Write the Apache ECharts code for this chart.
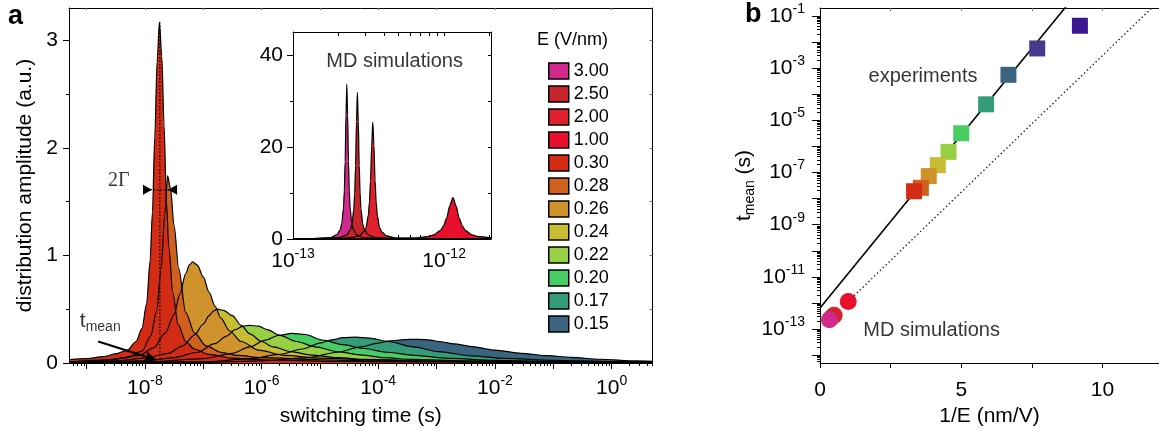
<!DOCTYPE html>
<html><head><meta charset="utf-8">
<script src="https://cdn.jsdelivr.net/npm/echarts@6/dist/echarts.min.js"></script>
<style>html,body{margin:0;padding:0;background:#fff}#c{width:1159px;height:436px}</style>
</head><body><div id="c"></div>
<script>
// ---------------- DATA ----------------
// Field strengths (legend order) and colours
const fieldLabels = ['3.00','2.50','2.00','1.00','0.30','0.28','0.26','0.24','0.22','0.20','0.17','0.15'];
const fieldColors = ['#d12a8c','#c8242c','#e0202c','#e8102c','#d42c14','#d0601e','#d0922a','#c8bc32','#98d044','#48cc64','#349c78','#3a6480'];

// Panel a: switching-time distributions, points are [log10(t / s), amplitude]
const dist030 = [[-9.3,0.03],[-9.0,0.04],[-8.7,0.06],[-8.5,0.085],[-8.3,0.12],[-8.15,0.2],[-8.05,0.32],[-7.97,0.55],[-7.91,0.95],[-7.87,1.4],[-7.83,2.1],[-7.79,2.8],[-7.75,3.17],[-7.71,2.85],[-7.67,2.2],[-7.63,1.5],[-7.59,1.08],[-7.52,0.65],[-7.43,0.36],[-7.3,0.2],[-7.15,0.13],[-6.9,0.08],[-6.5,0.045],[-6.0,0.03],[-5.0,0.018],[-4.0,0.012],[-2.0,0.007],[0.7,0.004]];
const dist028 = [[-9.3,0.01],[-8.7,0.025],[-8.3,0.05],[-8.05,0.11],[-7.9,0.25],[-7.8,0.48],[-7.72,0.88],[-7.66,1.38],[-7.61,1.74],[-7.56,1.62],[-7.5,1.28],[-7.42,0.88],[-7.3,0.47],[-7.15,0.28],[-6.95,0.16],[-6.7,0.1],[-6.4,0.07],[-6.0,0.05],[-5.0,0.03],[-4.0,0.018],[-2.0,0.01],[0.7,0.005]];
const dist026 = [[-9.3,0.01],[-8.6,0.03],[-8.1,0.07],[-7.85,0.14],[-7.65,0.28],[-7.5,0.45],[-7.4,0.64],[-7.3,0.83],[-7.24,0.91],[-7.18,0.94],[-7.1,0.91],[-7.0,0.8],[-6.9,0.66],[-6.8,0.53],[-6.7,0.42],[-6.55,0.3],[-6.35,0.2],[-6.05,0.12],[-5.6,0.07],[-5.0,0.045],[-4.0,0.027],[-2.5,0.015],[-1.0,0.01],[0.7,0.006]];
const dist024 = [[-9.3,0.005],[-8.5,0.02],[-8.0,0.045],[-7.6,0.09],[-7.35,0.16],[-7.15,0.26],[-7.0,0.36],[-6.9,0.44],[-6.82,0.485],[-6.76,0.5],[-6.65,0.49],[-6.5,0.44],[-6.35,0.35],[-6.2,0.27],[-6.0,0.2],[-5.8,0.15],[-5.5,0.105],[-5.14,0.074],[-4.7,0.05],[-4.2,0.033],[-3.0,0.017],[-1.5,0.01],[0.7,0.005]];
const dist022 = [[-9.3,0.003],[-8.0,0.02],[-7.5,0.05],[-7.1,0.1],[-6.8,0.18],[-6.6,0.25],[-6.45,0.31],[-6.32,0.342],[-6.21,0.35],[-6.05,0.342],[-5.9,0.31],[-5.7,0.26],[-5.4,0.2],[-5.08,0.15],[-4.7,0.105],[-4.28,0.074],[-3.9,0.05],[-3.43,0.034],[-2.5,0.02],[-1.0,0.01],[0.7,0.005]];
const dist020 = [[-9.3,0.002],[-8.0,0.01],[-7.0,0.04],[-6.5,0.09],[-6.2,0.15],[-5.95,0.21],[-5.7,0.258],[-5.48,0.275],[-5.25,0.265],[-4.96,0.214],[-4.6,0.17],[-4.28,0.137],[-3.85,0.1],[-3.43,0.074],[-2.8,0.043],[-2.0,0.025],[-1.0,0.013],[0.7,0.006]];
const dist017 = [[-9.3,0.001],[-7.0,0.01],[-6.2,0.04],[-5.7,0.08],[-5.3,0.13],[-5.0,0.185],[-4.8,0.215],[-4.6,0.235],[-4.39,0.24],[-4.15,0.232],[-3.83,0.2],[-3.4,0.15],[-2.97,0.105],[-2.4,0.067],[-1.84,0.043],[-1.0,0.025],[0.0,0.014],[0.7,0.01]];
const dist015 = [[-9.3,0.001],[-7.0,0.006],[-6.0,0.02],[-5.2,0.05],[-4.7,0.1],[-4.3,0.15],[-4.0,0.185],[-3.8,0.205],[-3.55,0.218],[-3.32,0.22],[-3.1,0.213],[-2.97,0.2],[-2.7,0.178],[-2.4,0.153],[-2.0,0.12],[-1.55,0.09],[-1.1,0.068],[-0.7,0.053],[-0.2,0.035],[0.43,0.019],[0.7,0.015]];

// Inset: MD simulation distributions, [log10(t / s), amplitude]
const md300 = [[-13,0.04],[-12.894,0.07],[-12.754,0.33],[-12.71,0.9],[-12.688,2.0],[-12.677,3.4],[-12.666,6.7],[-12.6605,10.4],[-12.655,16.9],[-12.6495,27.0],[-12.644,33.7],[-12.6385,27.0],[-12.633,16.9],[-12.6275,10.4],[-12.622,6.7],[-12.611,3.4],[-12.6,2.0],[-12.578,0.9],[-12.534,0.33],[-12.394,0.07],[-11.69,0.01]];
const md250 = [[-13,0.03],[-12.844,0.065],[-12.694,0.32],[-12.646,0.86],[-12.622,1.9],[-12.61,3.2],[-12.598,6.4],[-12.592,9.9],[-12.586,16.0],[-12.58,25.5],[-12.574,31.9],[-12.568,25.5],[-12.562,16.0],[-12.556,9.9],[-12.55,6.4],[-12.538,3.2],[-12.526,1.9],[-12.502,0.86],[-12.454,0.32],[-12.304,0.065],[-11.69,0.01]];
const md200 = [[-13,0.03],[-12.802,0.05],[-12.622,0.25],[-12.562,0.69],[-12.532,1.5],[-12.517,2.5],[-12.502,5.1],[-12.4945,7.9],[-12.487,12.7],[-12.4795,20.3],[-12.472,25.4],[-12.4645,20.3],[-12.457,12.7],[-12.4495,7.9],[-12.442,5.1],[-12.427,2.5],[-12.412,1.5],[-12.382,0.69],[-12.322,0.25],[-12.142,0.05],[-11.69,0.02]];
const md100 = [[-13,0.01],[-12.842,0.02],[-12.362,0.09],[-12.194,0.24],[-12.11,0.53],[-12.068,0.9],[-12.026,1.8],[-12.005,2.8],[-11.984,4.5],[-11.963,7.2],[-11.942,9.0],[-11.921,7.2],[-11.9,4.5],[-11.879,2.8],[-11.858,1.8],[-11.816,0.9],[-11.774,0.53],[-11.69,0.24]];

// Panel b: mean switching time vs inverse field
const expLabels = ['0.30','0.28','0.26','0.24','0.22','0.20','0.17','0.15','0.13','0.11'];
const expInvE   = [3.33, 3.57, 3.85, 4.17, 4.55, 5.0, 5.88, 6.67, 7.69, 9.2];
const expLogT   = [-7.72, -7.59, -7.14, -6.72, -6.21, -5.5, -4.39, -3.26, -2.25, -1.38];
const expColors = ['#d42c14','#d0601e','#d0922a','#c8bc32','#98d044','#48cc64','#349c78','#3a6480','#463a8c','#3c1890'];
const mdLabels  = ['1.00','2.00','2.50','3.00'];
const mdInvE    = [1.0, 0.5, 0.4, 0.333];
const mdLogT    = [-11.94, -12.47, -12.57, -12.64];
const mdColors  = ['#e8102c','#e0202c','#c8242c','#d12a8c'];
const fitExperiments = [[0, -12.19], [9.0, -0.26]];
const fitMD          = [[1.0, -11.94], [12.0, -0.43]];
const tMeanLogT = -7.745, tMeanPeak = 3.17;

// Tick label exponents / values
const aXLabels = [-8, -6, -4, -2, 0];
const aYLabels = [0, 1, 2, 3];
const bXLabels = [0, 5, 10];
const bYLabels = [-13, -11, -9, -7, -5, -3, -1];
const insetXLabels = [-13, -12];
const insetYLabels = [0, 20, 40];

// ---------------- CHART ----------------
const FONT = "'Liberation Sans', Arial, Helvetica, sans-serif";
const supRich = {
  b: {fontSize: 21, lineHeight: 28, fontFamily: FONT, color: '#000'},
  s: {fontSize: 14, lineHeight: 12, verticalAlign: 'top', fontFamily: FONT, color: '#000'}
};
const sup = v => '{b|10}{s|' + v + '}';
function intsIn(lo, hi) { const o = []; for (let n = Math.ceil(lo); n <= Math.floor(hi); n++) o.push(n); return o; }
function logMinor(lo, hi) {
  const o = [];
  for (let n = Math.floor(lo) - 1; n <= Math.ceil(hi); n++)
    for (let k = 2; k <= 9; k++) { const p = n + Math.log10(k); if (p > lo && p < hi) o.push(p); }
  return o;
}
const AX = {color: '#000', width: 1};
function axisBase(extra) {
  return Object.assign({
    type: 'value', splitLine: {show: false}, axisLine: {show: false, onZero: false, lineStyle: AX},
    axisTick: {show: false}, axisLabel: {show: false}, silent: true
  }, extra);
}

const aX = [-9.3, 0.7], aY = [0, 3.3];
const bX = [0, 12], bY = [-14.3, -0.7];
const iX = [-13, -11.69], iY = [0, 45];

const xAxes = [
  axisBase({gridIndex: 0, min: aX[0], max: aX[1], position: 'bottom',
    axisLine: {show: true, onZero: false, lineStyle: AX},
    axisTick: {show: true, length: 6, lineStyle: AX, customValues: intsIn(aX[0], aX[1])},
    axisLabel: {show: true, customValues: aXLabels, formatter: sup, rich: supRich, margin: 11},
    name: 'switching time (s)', nameLocation: 'middle', nameGap: 43,
    nameTextStyle: {fontSize: 21, fontFamily: FONT, color: '#000'}}),
  axisBase({gridIndex: 0, min: aX[0], max: aX[1], position: 'bottom',
    axisTick: {show: true, length: 3, lineStyle: AX, customValues: logMinor(aX[0], aX[1])}}),
  axisBase({gridIndex: 0, min: aX[0], max: aX[1], position: 'top',
    axisLine: {show: true, onZero: false, lineStyle: AX},
    axisTick: {show: true, inside: true, length: 2, lineStyle: {color: '#777', width: 1}, customValues: intsIn(aX[0], aX[1])}}),
  axisBase({gridIndex: 1, min: bX[0], max: bX[1], position: 'bottom',
    axisLine: {show: true, onZero: false, lineStyle: AX},
    axisTick: {show: true, length: 5, lineStyle: AX, customValues: [0, 2.5, 5, 7.5, 10]},
    axisLabel: {show: true, customValues: bXLabels, fontSize: 21, fontFamily: FONT, color: '#000', margin: 17},
    name: '1/E (nm/V)', nameLocation: 'middle', nameGap: 43,
    nameTextStyle: {fontSize: 21, fontFamily: FONT, color: '#000'}}),
  axisBase({gridIndex: 1, min: bX[0], max: bX[1], position: 'top',
    axisLine: {show: true, onZero: false, lineStyle: AX},
    axisTick: {show: true, inside: true, length: 3, lineStyle: {color: '#777', width: 1}, customValues: [2.5, 5, 7.5, 10]}}),
  axisBase({gridIndex: 2, min: iX[0], max: iX[1], position: 'bottom',
    axisLine: {show: true, onZero: false, lineStyle: AX},
    axisTick: {show: true, inside: true, length: 4, lineStyle: AX, customValues: [-12].concat(logMinor(iX[0], iX[1]))},
    axisLabel: {show: true, customValues: insetXLabels, formatter: sup, rich: supRich, margin: 8}}),
  axisBase({gridIndex: 2, min: iX[0], max: iX[1], position: 'top',
    axisLine: {show: true, onZero: false, lineStyle: AX},
    axisTick: {show: true, inside: true, length: 4, lineStyle: AX, customValues: [-12].concat(logMinor(iX[0], iX[1]))}})
];

const yAxes = [
  axisBase({gridIndex: 0, min: aY[0], max: aY[1], position: 'left',
    axisLine: {show: true, onZero: false, lineStyle: AX},
    axisTick: {show: true, length: 6, lineStyle: AX, customValues: aYLabels},
    axisLabel: {show: true, customValues: aYLabels, fontSize: 21, fontFamily: FONT, color: '#000', margin: 11},
    name: 'distribution amplitude (a.u.)', nameLocation: 'middle', nameGap: 33,
    nameTextStyle: {fontSize: 21, fontFamily: FONT, color: '#000'}}),
  axisBase({gridIndex: 0, min: aY[0], max: aY[1], position: 'left',
    axisTick: {show: true, length: 3, lineStyle: AX, customValues: [0.5, 1.5, 2.5]}}),
  axisBase({gridIndex: 0, min: aY[0], max: aY[1], position: 'right',
    axisLine: {show: true, onZero: false, lineStyle: AX},
    axisTick: {show: true, inside: true, length: 3, lineStyle: {color: '#777', width: 1}, customValues: [0.5, 1, 1.5, 2, 2.5, 3]}}),
  axisBase({gridIndex: 1, min: bY[0], max: bY[1], position: 'left',
    axisLine: {show: true, onZero: false, lineStyle: AX},
    axisTick: {show: true, length: 8, lineStyle: AX, customValues: intsIn(bY[0], bY[1])},
    axisLabel: {show: true, customValues: bYLabels, formatter: sup, rich: supRich, margin: 15},
    name: '{t|t}{m|mean}{t| (s)}', nameLocation: 'middle', nameGap: 52,
    nameTextStyle: {fontSize: 21, fontFamily: FONT, color: '#000', rich: {
      t: {fontSize: 21, lineHeight: 26, fontFamily: FONT, color: '#000'},
      m: {fontSize: 14, lineHeight: 10, verticalAlign: 'bottom', fontFamily: FONT, color: '#000'}}}}),
  axisBase({gridIndex: 1, min: bY[0], max: bY[1], position: 'left',
    axisTick: {show: true, length: 3, lineStyle: AX, customValues: logMinor(bY[0], bY[1])}}),
  axisBase({gridIndex: 2, min: iY[0], max: iY[1], position: 'left',
    axisLine: {show: true, onZero: false, lineStyle: AX},
    axisTick: {show: true, length: 6, lineStyle: AX, customValues: insetYLabels},
    axisLabel: {show: true, customValues: insetYLabels, fontSize: 21, fontFamily: FONT, color: '#000', margin: 10}}),
  axisBase({gridIndex: 2, min: iY[0], max: iY[1], position: 'left',
    axisTick: {show: true, length: 3, lineStyle: AX, customValues: [10, 30]}}),
  axisBase({gridIndex: 2, min: iY[0], max: iY[1], position: 'right',
    axisLine: {show: true, onZero: false, lineStyle: AX},
    axisTick: {show: true, inside: true, length: 3, lineStyle: AX, customValues: [10, 20, 30, 40]}})
];

function distSeries(name, data, color, xi, yi) {
  return {type: 'line', name, xAxisIndex: xi, yAxisIndex: yi, data, smooth: 0.3, smoothMonotone: 'x',
    symbol: 'none', showSymbol: false, silent: true,
    lineStyle: {color: '#000', width: 1.2}, itemStyle: {color}, areaStyle: {color, opacity: 1}};
}
const col = l => fieldColors[fieldLabels.indexOf(l)];

function textPoint(xi, yi, pos, formatter, style, position) {
  return {type: 'scatter', xAxisIndex: xi, yAxisIndex: yi, symbolSize: 0, silent: true, z: 10,
    data: [pos], label: Object.assign({show: true, position: position || 'inside', formatter,
      fontFamily: FONT, fontSize: 20, color: '#000'}, style)};
}

const series = [
  distSeries('0.15', dist015, col('0.15'), 0, 0),
  distSeries('0.17', dist017, col('0.17'), 0, 0),
  distSeries('0.20', dist020, col('0.20'), 0, 0),
  distSeries('0.22', dist022, col('0.22'), 0, 0),
  distSeries('0.24', dist024, col('0.24'), 0, 0),
  distSeries('0.26', dist026, col('0.26'), 0, 0),
  distSeries('0.28', dist028, col('0.28'), 0, 0),
  distSeries('0.30', dist030, col('0.30'), 0, 0),
  {type: 'line', xAxisIndex: 0, yAxisIndex: 0, data: [[tMeanLogT, 0], [tMeanLogT, tMeanPeak]], symbol: 'none', silent: true, z: 5,
    lineStyle: {color: '#000', width: 1.5, type: [1.5, 2]},
    markLine: {silent: true, symbol: ['none', 'arrow'], symbolSize: [9, 12], label: {show: false},
      lineStyle: {color: '#000', width: 2, type: 'solid'},
      data: [[{coord: [-8.8, 0.2]}, {coord: [-7.81, 0.03]}]]}},
  {type: 'line', xAxisIndex: 0, yAxisIndex: 0, data: [[-8.03, 1.61], [-7.47, 1.61]], symbol: 'none', silent: true, z: 5,
    lineStyle: {color: '#000', width: 1.5, type: [1.5, 2]}},
  {type: 'scatter', xAxisIndex: 0, yAxisIndex: 0, silent: true, z: 6, symbol: 'triangle', symbolSize: [10, 9],
    itemStyle: {color: '#000', opacity: 1},
    data: [{value: [-7.955, 1.61], symbolRotate: -90}, {value: [-7.525, 1.61], symbolRotate: 90}]},
  textPoint(0, 0, [-8.446, 1.69], '2Γ', {fontFamily: "'Liberation Serif', 'Times New Roman', serif", fontSize: 20}),
  textPoint(0, 0, [-9.2, 0.39], '{t|t}{m|mean}', {rich: {
      t: {fontSize: 21, lineHeight: 26, fontFamily: FONT, color: '#000'},
      m: {fontSize: 14, lineHeight: 10, verticalAlign: 'bottom', fontFamily: FONT, color: '#000'}}}, 'right'),
  distSeries('3.00', md300, col('3.00'), 5, 5),
  distSeries('2.50', md250, col('2.50'), 5, 5),
  distSeries('2.00', md200, col('2.00'), 5, 5),
  distSeries('1.00', md100, col('1.00'), 5, 5),
  textPoint(5, 5, [-12.328, 38.6], 'MD simulations', {fontSize: 20}),
  {type: 'line', xAxisIndex: 3, yAxisIndex: 3, data: fitExperiments, symbol: 'none', silent: true, clip: true,
    lineStyle: {color: '#000', width: 1.6}},
  {type: 'line', xAxisIndex: 3, yAxisIndex: 3, data: fitMD, symbol: 'none', silent: true, clip: true,
    lineStyle: {color: '#222', width: 1.3, type: [1.5, 2.5]}},
  {type: 'scatter', xAxisIndex: 3, yAxisIndex: 3, symbol: 'rect', symbolSize: 16, silent: true, z: 4,
    data: expInvE.map((x, i) => ({value: [x, expLogT[i]], itemStyle: {color: expColors[i], opacity: 1}})).reverse()},
  {type: 'scatter', xAxisIndex: 3, yAxisIndex: 3, symbol: 'circle', symbolSize: 17, silent: true, z: 4,
    data: mdInvE.map((x, i) => ({value: [x, mdLogT[i]], itemStyle: {color: mdColors[i], opacity: 1}}))},
  textPoint(3, 3, [3.646, -3.33], 'experiments', {fontSize: 20}),
  textPoint(3, 3, [3.95, -13.04], 'MD simulations', {fontSize: 20})
];

const chart = echarts.init(document.getElementById('c'));
chart.setOption({
  animation: false,
  backgroundColor: '#fff',
  textStyle: {fontFamily: FONT},
  grid: [
    {left: 69, top: 8, width: 583.5, height: 355},
    {left: 820, top: 8, width: 339, height: 355},
    {left: 293, top: 32, width: 198, height: 207, show: true, backgroundColor: '#fff', borderWidth: 0}
  ],
  legend: {
    orient: 'vertical', left: 543, top: 57, itemWidth: 20, itemHeight: 16, itemGap: 5, icon: 'rect',
    selectedMode: false,
    itemStyle: {borderColor: '#000', borderWidth: 1.5},
    textStyle: {fontSize: 18, fontFamily: FONT, color: '#000'},
    data: fieldLabels.map((l, i) => ({name: l, itemStyle: {color: fieldColors[i], borderColor: '#000', borderWidth: 1.5}}))
  },
  graphic: [
    {type: 'text', left: 8, top: 3, style: {text: 'a', font: 'bold 27px ' + FONT, fill: '#000'}},
    {type: 'text', left: 745, top: 1, style: {text: 'b', font: 'bold 27px ' + FONT, fill: '#000'}},
    {type: 'text', left: 537, top: 31, style: {text: 'E (V/nm)', font: '18px ' + FONT, fill: '#000'}}
  ],
  xAxis: xAxes,
  yAxis: yAxes,
  series
});
</script></body></html>
